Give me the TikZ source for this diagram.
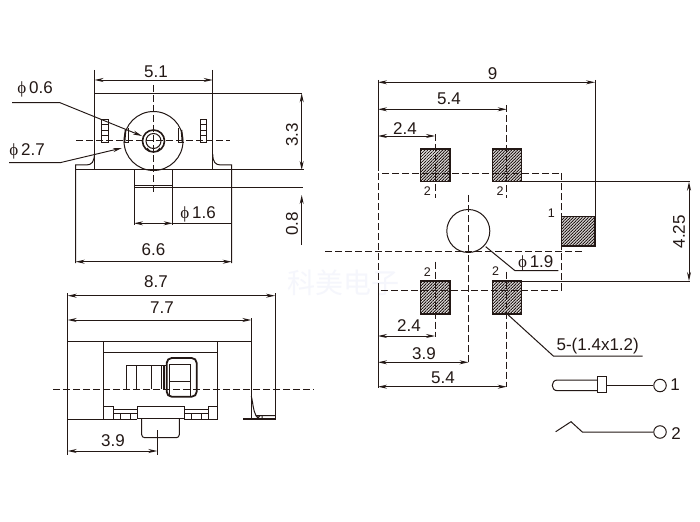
\documentclass[tikz,border=0pt]{standalone}
\usepackage{fontspec}
\setmainfont{Liberation Sans}
\newfontfamily\phifont{Liberation Serif}
\newfontfamily\cjkfont{Noto Sans CJK SC}
\usetikzlibrary{arrows.meta,patterns.meta}
\definecolor{ink}{HTML}{231815}
\definecolor{wm}{HTML}{F5F6FC}
\tikzset{
  ol/.style={draw=ink,line width=1pt},
  thick ol/.style={draw=ink,line width=1.8pt},
  dimline/.style={draw=ink,line width=0.95pt,{Stealth[length=9pt,width=4pt]}-{Stealth[length=9pt,width=4pt]}},
  arrowline/.style={draw=ink,line width=0.95pt,-{Stealth[length=9pt,width=4pt]}},
  centerl/.style={draw=ink,line width=1pt,dash pattern=on 7pt off 3pt},
  lab/.style={text=ink,inner sep=0pt,font=\fontsize{17}{17}\selectfont},
  smalllab/.style={text=ink,inner sep=0pt,font=\fontsize{12.5}{13}\selectfont},
  pad/.style={draw=ink,line width=1.4pt,pattern={Lines[angle=45,distance=2.12pt,line width=1pt]},pattern color=ink},
}
\newcommand{\phisym}{{\phifont\symbol{"03D5}}}
\begin{document}
\begin{tikzpicture}[x=1pt,y=-1pt]
\useasboundingbox (0,0) rectangle (700,521);
\fill[white] (0,0) rectangle (700,521);
\node[text=wm,inner sep=0pt,font=\fontsize{28}{28}\cjkfont] (wmark) at (343,283) {科美电子};

% ---------- top-left view
\draw[ol] (94.5,170) -- (94.5,93.3) -- (302,93.3);
\draw[ol] (212.7,93.3) -- (212.7,170);
\draw[ol] (94.5,154) .. controls (94,162) and (92,165) .. (86,165) -- (75.7,165) -- (75.7,263);
\draw[ol] (212.7,154) .. controls (213,162) and (215,165) .. (221,165) -- (231.7,165) -- (231.7,263);
\draw[ol] (75.7,170) -- (304,170);
\draw[ol] (94.5,70) -- (94.5,93);
\draw[ol] (212.7,70) -- (212.7,93);
\draw[dimline] (94.5,80) -- (212.7,80);
\node[lab] (d51) at (156,72) {5.1};
\draw[ol] (153.5,141) circle (29.5);
\draw[ol,line width=1.6pt] (153.5,141) circle (11);
\draw[ol] (153.5,141) circle (7.5);
\draw[ol] (147,148) -- (150,151) (160,148) -- (157,151);
\draw[centerl] (153.3,85) -- (153.3,194);
\draw[centerl] (76,140.7) -- (230,140.7);
\draw[ol] (101.7,143) rectangle (108.3,120);
\draw[ol] (101.7,125) -- (108.3,125) (101.7,131) -- (108.3,131) (101.7,136) -- (108.3,136);
\draw[ol] (200,143) rectangle (206.7,120);
\draw[ol] (200,125) -- (206.7,125) (200,131) -- (206.7,131) (200,136) -- (206.7,136);
\draw[ol] (123.5,142.7) -- (128,142.7) -- (128,128);
\draw[ol,line width=1.6pt] (124.5,142.7) -- (125.5,130);
\draw[ol] (178,128) -- (178,142.7) -- (184,142.7);
\draw[ol,line width=1.6pt] (182.5,142.7) -- (181.5,130);
\draw[ol] (134,170) -- (134,225);
\draw[ol] (172.7,170) -- (172.7,225);
\draw[ol] (134,186) -- (172.7,186);
\draw[ol] (134,188) -- (303,188);
\draw[dimline] (134,223.3) -- (172.7,223.3);
\draw[ol] (172.7,223.3) -- (231.7,223.3);
\node[lab] (d16) at (198,214.5) {\phisym\,1.6};
\draw[dimline] (75.7,261.7) -- (231.7,261.7);
\node[lab] (d66) at (153.5,250) {6.6};
\draw[dimline] (301.7,93.3) -- (301.7,170);
\node[lab,rotate=90] (d33) at (292,135) {3.3};
\draw[arrowline] (301.7,245) -- (301.7,195);
\node[lab,rotate=90] (d08) at (292,224) {0.8};
\node[lab] (d06) at (35,89.5) {\phisym\,0.6};
\draw[arrowline] (12,102.7) -- (60,102.7) -- (142,136);
\node[lab] (d27) at (27,151.5) {\phisym\,2.7};
\draw[arrowline] (9,162.7) -- (60,162.7) -- (122,148);

% ---------- bottom-left view
\draw[ol] (67.7,293) -- (67.7,455);
\draw[ol] (275,293) -- (275,420);
\draw[ol] (251.3,318) -- (251.3,396);
\draw[dimline] (67.7,295.7) -- (275,295.7);
\node[lab] (d87) at (156,281.5) {8.7};
\draw[dimline] (67.7,320) -- (251.3,320);
\node[lab] (d77) at (162,307.5) {7.7};
\draw[ol] (67.7,341) -- (251.3,341);
\draw[ol] (67.7,419) -- (113,419);
\draw[ol] (103.3,341) -- (103.3,419);
\draw[ol] (217.7,341) -- (217.7,419);
\draw[ol] (103.3,352.7) -- (217.7,352.7);
\draw[ol] (103.3,406.7) -- (113,406.7) -- (113,419);
\draw[ol] (217.7,406.7) -- (208,406.7) -- (208,419);
\draw[ol] (113,409) -- (137.3,409) (113,413.3) -- (137.3,413.3) (113,419) -- (137.3,419);
\draw[ol] (120,413.3) -- (120,419) (130,413.3) -- (130,419);
\draw[ol] (184,409) -- (208,409) (184,413.3) -- (208,413.3) (184,419) -- (208,419);
\draw[ol] (191,413.3) -- (191,419) (201,413.3) -- (201,419);
\draw[ol] (137.3,406.7) rectangle (184,418.5);
\draw[ol] (208,419) -- (217.7,419);
\draw[ol,rounded corners=3pt] (141.7,419) -- (141.7,437.7) -- (179.3,437.7) -- (179.3,419);
\draw[ol] (157.3,430) -- (157.3,455);
\draw[dimline] (67.7,451) -- (157.3,451);
\node[lab] (d39a) at (113,441) {3.9};
\draw[ol] (126.7,389) -- (126.7,365) -- (166.7,365);
\draw[ol] (136,365) -- (136,389) (151,365) -- (151,389) (161,365) -- (161,389);
\draw[ol,line width=1.8pt] (164,365) -- (164,389);
\draw[thick ol,rounded corners=5pt] (166.7,358) rectangle (196.7,396.7);
\draw[ol] (169.5,364) -- (169.5,396) (190.7,364) -- (190.7,396);
\draw[ol] (169.5,364) -- (190.7,364) (169.5,381.7) -- (190.7,381.7);
\draw[centerl] (53,389) -- (314,389);
\draw[ol] (251.3,396) .. controls (253,403) and (253,410) .. (256,415.7) -- (275,415.7);
\draw[ol,line width=1.8pt] (243,419.3) -- (275,419.3);
\draw[ol] (251.3,396) -- (251.3,419);
\draw[ol] (256,415.7) -- (260,419) (260,415.7) -- (256,419) (262,415.7) -- (262,419);

% ---------- footprint view
\draw[ol] (378,80) -- (378,171);
\draw[ol] (378,290) -- (378,388);
\draw[ol] (595,80) -- (595,217);
\draw[dimline] (378,82.3) -- (595,82.3);
\node[lab] (d9) at (492.7,74) {9};
\draw[dimline] (378,109.3) -- (506.7,109.3);
\node[lab] (d54a) at (449,98.5) {5.4};
\draw[dimline] (378,136) -- (435,136);
\node[lab] (d24a) at (405,128.5) {2.4};
\path[pad] (420.7,149) rectangle (450,181.7);
\path[pad] (492.3,149) rectangle (521.5,181.7);
\path[pad] (420.7,281) rectangle (450,314);
\path[pad] (492.3,281) rectangle (521.5,314);
\path[pad] (561.3,216.7) rectangle (595,246);
\draw[centerl] (378,173.3) rectangle (561.7,290);
\draw[centerl] (435,134) -- (435,198);
\draw[centerl] (506.7,105) -- (506.7,198);
\draw[centerl] (435,261.7) -- (435,337);
\draw[centerl] (506.7,271.7) -- (506.7,387);
\draw[centerl] (325,251) -- (581.7,251);
\draw[centerl] (468.5,195) -- (468.5,363);
\draw[ol] (468.3,231) circle (21.5);
\draw[ol] (521.5,181.7) -- (690,181.7);
\draw[ol] (521.5,281) -- (690,281);
\draw[dimline] (689,181.7) -- (689,281);
\node[lab,rotate=90] (d425) at (679,231.7) {4.25};
\draw[ol] (485.7,246.7) -- (515,270.7) -- (558.3,270.7);
\node[lab] (d19) at (535.7,263) {\phisym\,1.9};
\node[smalllab] (p1) at (427.3,191.5) {2};
\node[smalllab] (p2) at (500,191.5) {2};
\node[smalllab] (p3) at (427.3,272.5) {2};
\node[smalllab] (p4) at (495.7,271) {2};
\node[smalllab] (p5) at (551.3,213.5) {1};
\draw[dimline] (378,336) -- (435,336);
\node[lab] (d24b) at (409,326) {2.4};
\draw[dimline] (378,362.3) -- (468.5,362.3);
\node[lab] (d39b) at (424,353.5) {3.9};
\draw[dimline] (378,386.7) -- (506.7,386.7);
\node[lab] (d54b) at (443,378) {5.4};
\draw[ol] (508.3,315) -- (553.3,356) -- (642.7,356);
\node[lab] (d5p) at (597.7,346) {5-(1.4x1.2)};

% ---------- symbols
\node[draw=ink,line width=1pt,circle,inner sep=0pt,minimum size=12.5pt] (c1) at (660,385.5) {};
\node[draw=ink,line width=1pt,circle,inner sep=0pt,minimum size=12.5pt] (c2) at (660,432) {};
\node[lab] (t1) at (675,384.5) {1};
\node[lab] (t2) at (676,434) {2};
\coordinate (plug) at (606.7,385.5);
\coordinate (sw) at (582.3,432);
\draw[ol] (597.3,380) -- (557.5,380) .. controls (550.5,380) and (550.5,390.7) .. (557.5,390.7) -- (597.3,390.7);
\draw[ol,line width=1.5pt] (597.3,376.7) rectangle (606.7,392.7);
\draw[ol] (plug) -- (c1);
\draw[ol] (555.7,431.7) -- (571,421.7) -- (sw) -- (c2);
\end{tikzpicture}
\end{document}
